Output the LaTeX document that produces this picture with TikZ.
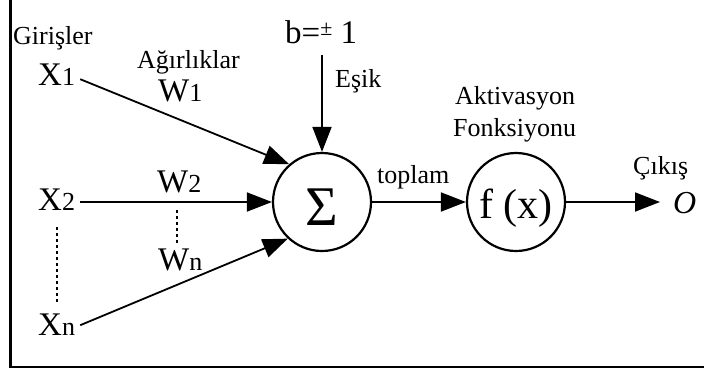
\documentclass[tikz,border=0pt]{standalone}
\usepackage{fontspec}
\setmainfont{Liberation Serif}
\usetikzlibrary{arrows.meta}
\newcommand{\subtxt}[1]{{\fontsize{26}{26}\selectfont #1}}
\tikzset{
  lbl/.style={inner sep=0pt, anchor=base west, font=\fontsize{26}{28}\selectfont},
  big/.style={inner sep=0pt, anchor=base west, font=\fontsize{33}{36}\selectfont},
  conn/.style={line width=1.8pt, -{Triangle[length=25pt,width=19pt]}},
  dots/.style={line width=2pt, dash pattern=on 3pt off 3pt},
  neuron/.style={circle, draw, line width=2.2pt, minimum size=98pt, inner sep=0pt},
  frameline/.style={line width=2.2pt, line join=miter},
}
\begin{document}
\begin{tikzpicture}[x=1pt,y=1pt]
\useasboundingbox (0,0) rectangle (704,-373);
\draw[frameline] (10.5,0) -- (10.5,-366.7) -- (704,-366.7);

\node[lbl] (gir) at (13,-44) {Girişler};
\node[lbl] (agr) at (137,-68) {Ağırlıklar};
\node[big] (x1) at (38,-85) {X\subtxt{1}};
\node[big] (x2) at (38,-210) {X\subtxt{2}};
\node[big] (xn) at (38,-335) {X\subtxt{n}};
\node[big] (w1) at (158,-101) {W\subtxt{1}};
\node[big] (w2) at (157,-192) {W\subtxt{2}};
\node[big] (wn) at (158,-270) {W\subtxt{n}};
\node[big] (b) at (285,-43) {b=\raisebox{8pt}{\fontsize{22}{22}\selectfont ±} 1};
\node[lbl] (esik) at (335,-87) {Eşik};
\node[lbl] (top) at (377,-183) {toplam};
\node[lbl] (akt) at (455,-104) {Aktivasyon};
\node[lbl] (fon) at (453,-136) {Fonksiyonu};
\node[lbl] (cik) at (633,-174) {Çıkış};
\node[inner sep=0pt, anchor=base west, font=\fontsize{32}{34}\selectfont\itshape] (o) at (673,-213) {O};

\node[neuron, text height=47pt, text depth=0pt, font=\fontsize{56}{56}\selectfont] (sum) at (322,-202) {Σ};
\node[neuron, text height=33pt, text depth=0pt, font=\fontsize{42}{42}\selectfont] (fx) at (516,-202) {f (x)};

\draw[conn] ([xshift=5pt,yshift=-5pt]x1.east) -- (sum.131);
\draw[conn] ([xshift=5pt]x2.east |- sum.west) -- (sum.west);
\draw[conn] ([xshift=5pt,yshift=-1pt]xn.east) -- (sum.227);
\draw[conn] ([yshift=-11pt]b.south -| sum.north) -- (sum.north);
\draw[conn] (sum.east) -- (fx.west);
\draw[conn] (fx.east) -- ([xshift=-13pt]o.west |- fx.east);

\draw[dots] ([yshift=-17pt]x2.south) -- ([yshift=11pt]xn.north);
\draw[dots] ([xshift=-2pt,yshift=-17pt]w2.south) -- ([xshift=-2pt,yshift=3pt]w2.south |- wn.north);
\end{tikzpicture}
\end{document}
